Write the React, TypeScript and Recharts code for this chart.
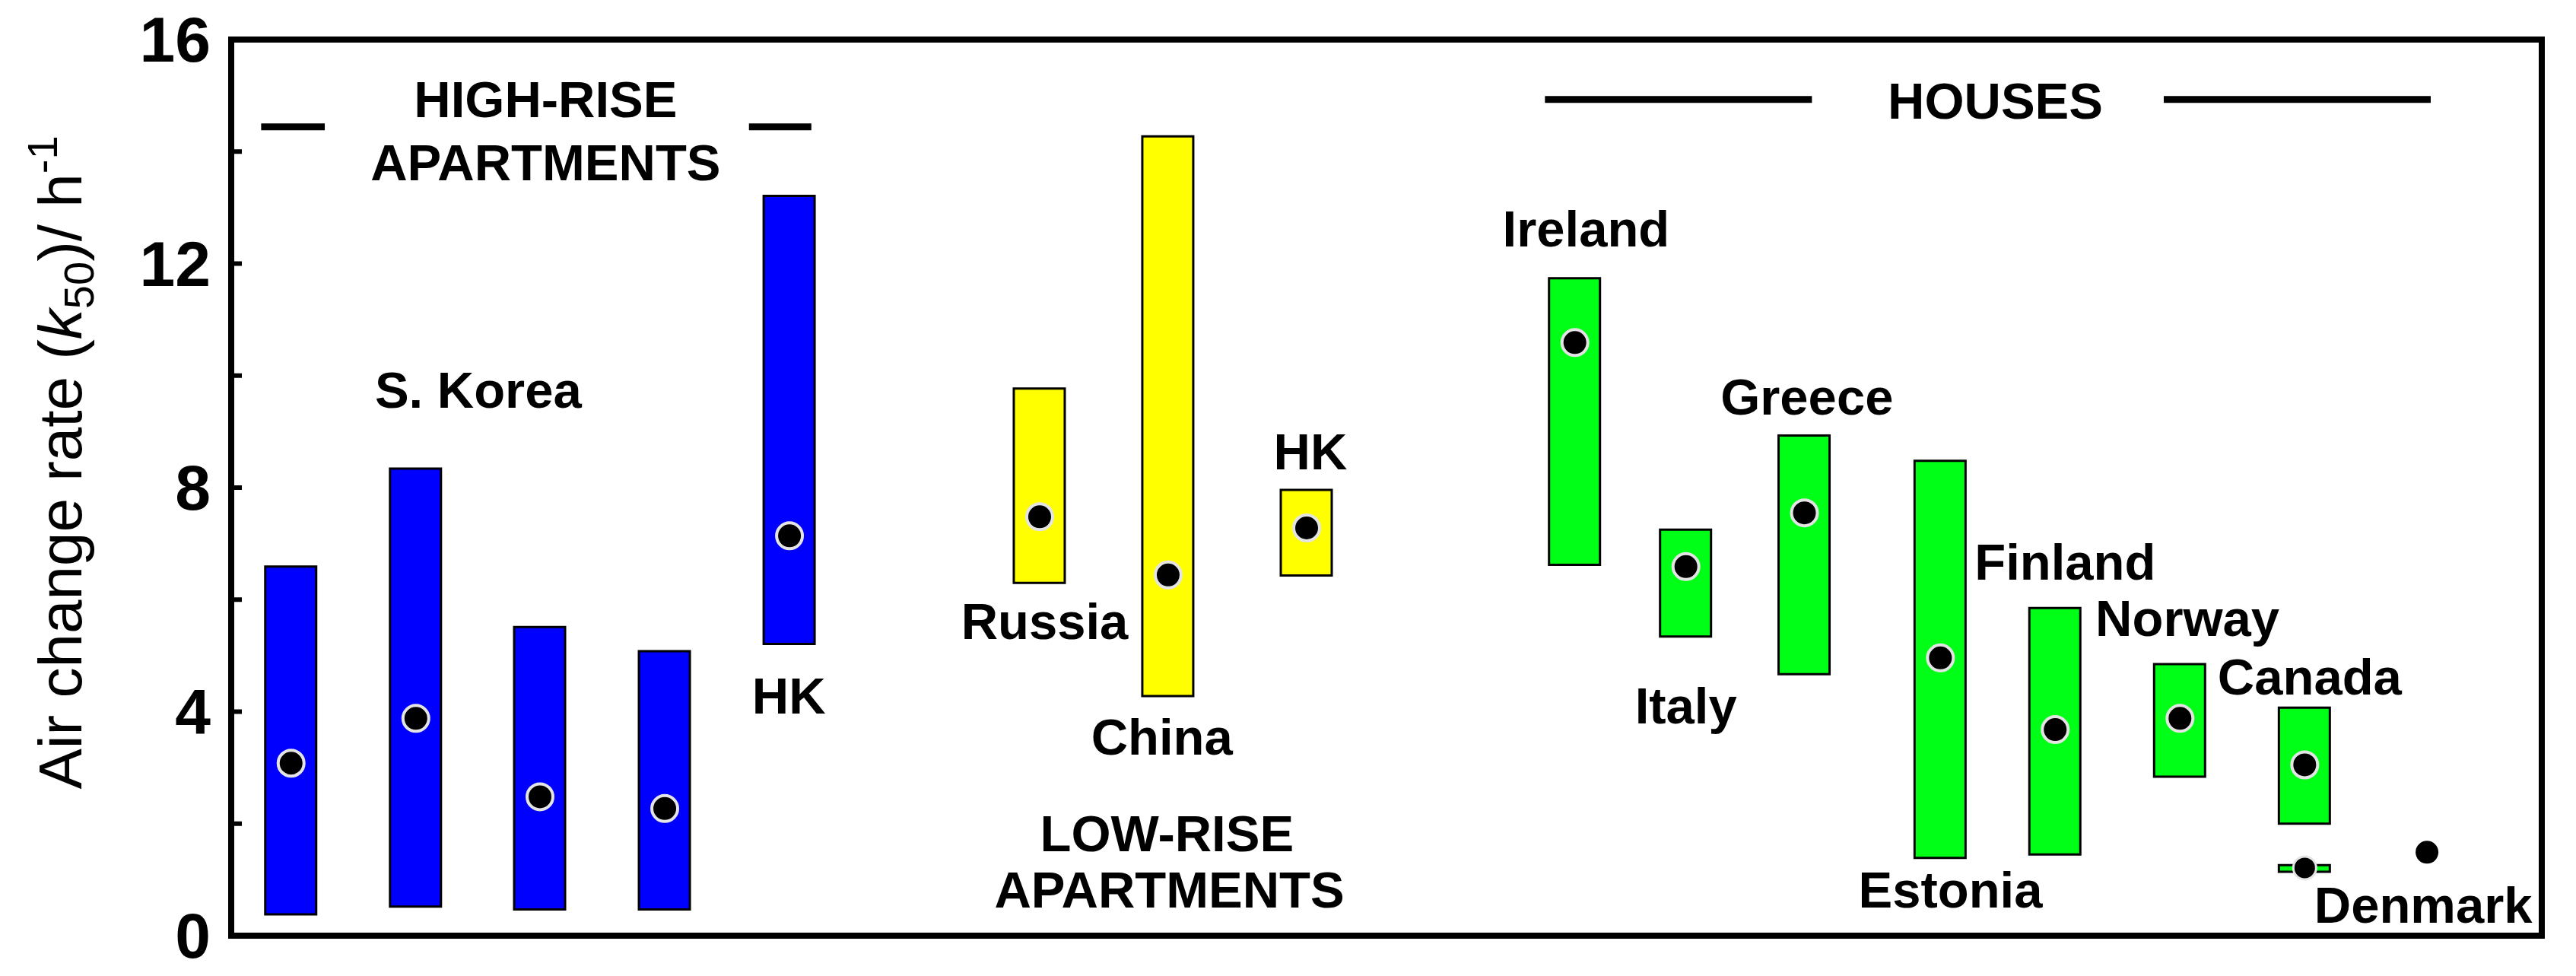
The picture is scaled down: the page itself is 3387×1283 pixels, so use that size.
import React from "react";
import { ComposedChart, Bar, Scatter, XAxis, YAxis, ReferenceLine, ReferenceArea, Cell } from "recharts";

// measured sites (x = position along the unlabelled horizontal axis)
const sites = [
  "S. Korea 1", "S. Korea 2", "S. Korea 3", "S. Korea 4", "HK high-rise",
  "Russia", "China", "HK low-rise",
  "Ireland", "Italy", "Greece", "Estonia", "Finland", "Norway", "Canada",
];
const groups = [
  "high", "high", "high", "high", "high",
  "low", "low", "low",
  "house", "house", "house", "house", "house", "house", "house",
];
const xPos = [0.48, 1.48, 2.475, 3.475, 4.475, 6.48, 7.51, 8.62, 10.77, 11.66, 12.61, 13.7, 14.62, 15.62, 16.62];
const lows = [0.38, 0.52, 0.47, 0.47, 5.21, 6.3, 4.28, 6.43, 6.62, 5.34, 4.67, 1.39, 1.45, 2.84, 2.0];
const highs = [6.59, 8.34, 5.51, 5.08, 13.21, 9.77, 14.27, 7.96, 11.74, 7.25, 8.93, 8.48, 5.85, 4.85, 4.07];
const means = [3.08, 3.88, 2.48, 2.27, 7.14, 7.48, 6.44, 7.28, 10.59, 6.59, 7.55, 4.96, 3.68, 3.88, 3.05];

// Denmark: a very narrow range under Canada plus a single point
const denmarkX = [16.62, 17.6];
const denmarkMean = [1.21, 1.49];
const denmarkRange = [1.14, 1.26];

const labelTexts = [
  "HIGH-RISE", "APARTMENTS", "S. Korea", "HK",
  "Russia", "China", "HK", "LOW-RISE", "APARTMENTS",
  "HOUSES", "Ireland", "Italy", "Greece", "Estonia", "Finland", "Norway", "Canada", "Denmark",
];
const labelX = [2.52, 2.52, 1.98, 4.47, 6.52, 7.46, 8.65, 7.5, 7.52, 14.14, 10.86, 11.66, 12.63, 13.78, 14.7, 15.68, 16.66, 17.57];
const labelY = [14.61, 13.49, 9.42, 3.97, 5.3, 3.23, 8.33, 1.51, 0.5, 14.59, 12.31, 3.79, 9.31, 0.5, 6.36, 5.35, 4.31, 0.23];

// group header rules [x1, x2, y]
const headerRules = [
  [0.24, 0.75, 14.44],
  [4.15, 4.65, 14.44],
  [10.53, 12.67, 14.93],
  [15.49, 17.63, 14.93],
];

const yTicks = [0, 2, 4, 6, 8, 10, 12, 14, 16];
const X_DOMAIN = [0, 18.52];
const Y_DOMAIN = [0, 16];

const groupColors: Record<string, string> = { high: "#0000ff", low: "#ffff00", house: "#00ff17" };
const FONT = "'Liberation Sans', Arial, sans-serif";

const data = sites.map((site, i) => ({
  site,
  group: groups[i],
  x: xPos[i],
  range: [lows[i], highs[i]],
  mean: means[i],
  dk: site === "Canada" ? denmarkRange : undefined,
}));
const denmarkPts = denmarkX.map((x, i) => ({ x, y: denmarkMean[i], ringed: i === 0 }));
const labels = labelTexts.map((text, i) => ({ text, x: labelX[i], y: labelY[i] }));

const frame = { stroke: "#000", strokeWidth: 8, strokeLinecap: "square" as const };

const YTick = ({ x, y, payload }: any) => (
  <g>
    <line x1={x + 27} x2={x + 41} y1={y} y2={y} stroke="#000" strokeWidth={6} />
    {payload.value % 4 === 0 && (
      <text x={x} y={y} textAnchor="end" dominantBaseline="central" fontFamily={FONT}
        fontWeight="bold" fontSize={84} fill="#000">
        {payload.value}
      </text>
    )}
  </g>
);

const AxisTitle = () => (
  <text transform="translate(107,608) rotate(-90)" textAnchor="middle" fontFamily={FONT} fontSize={80} fill="#000">
    Air change rate (<tspan fontStyle="italic">k</tspan>
    <tspan dy={16} fontSize={56}>50</tspan>
    <tspan dy={-16}>)/ h</tspan>
    <tspan dy={-32} fontSize={56}>-1</tspan>
  </text>
);

const MeanDot = ({ cx, cy }: any) => (
  <circle cx={cx} cy={cy} r={17} fill="#000" stroke="#e4e4e4" strokeWidth={4} />
);

const DenmarkDot = ({ cx, cy, payload }: any) => (
  <circle cx={cx} cy={cy} r={15} fill="#000" stroke={payload.ringed ? "#e4e4e4" : "none"} strokeWidth={3} />
);

const LabelText = ({ cx, cy, payload }: any) => (
  <text x={cx} y={cy} textAnchor="middle" fontFamily={FONT} fontWeight="bold" fontSize={67} fill="#000">
    {payload.text}
  </text>
);

export default function App() {
  return (
    <div style={{ position: "absolute", left: 0, top: 0, background: "#fff" }}>
      <ComposedChart width={3387} height={1283} data={data} margin={{ top: 52, right: 45, bottom: 53, left: 0 }}>
        <XAxis dataKey="x" type="number" domain={X_DOMAIN} height={0} tick={false} tickLine={false} axisLine={frame} />
        <XAxis xAxisId="top" orientation="top" dataKey="x" type="number" domain={X_DOMAIN} hide />
        <XAxis xAxisId="pts" dataKey="x" type="number" domain={X_DOMAIN} hide />
        <YAxis type="number" domain={Y_DOMAIN} ticks={yTicks} width={304} tickSize={0} tickMargin={27}
          tickLine={false} axisLine={frame} tick={<YTick />} label={<AxisTitle />} interval={0} />

        {/* plot frame */}
        <ReferenceArea x1={X_DOMAIN[0]} x2={X_DOMAIN[1]} y1={Y_DOMAIN[0]} y2={Y_DOMAIN[1]}
          fill="none" fillOpacity={0} stroke="#000" strokeWidth={8} strokeOpacity={1} />

        {headerRules.map(([x1, x2, y], i) => (
          <ReferenceLine key={i} segment={[{ x: x1, y }, { x: x2, y }]} stroke="#000" strokeWidth={9} />
        ))}

        <Bar dataKey="range" barSize={67} stroke="#000" strokeWidth={3} isAnimationActive={false}>
          {data.map((d, i) => (
            <Cell key={i} fill={groupColors[d.group]} />
          ))}
        </Bar>
        <Bar xAxisId="top" dataKey="dk" barSize={67} fill={groupColors.house} stroke="#000" strokeWidth={3}
          isAnimationActive={false} />
        <Scatter dataKey="mean" shape={<MeanDot />} isAnimationActive={false} />
        <Scatter xAxisId="pts" data={denmarkPts} dataKey="y" shape={<DenmarkDot />} isAnimationActive={false} />
        <Scatter xAxisId="pts" data={labels} dataKey="y" shape={<LabelText />} isAnimationActive={false} />
      </ComposedChart>
    </div>
  );
}
